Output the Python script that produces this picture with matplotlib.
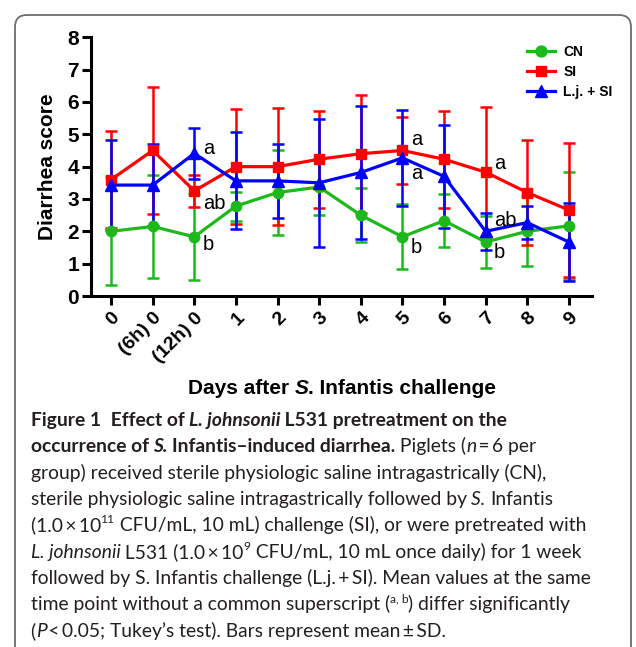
import matplotlib
matplotlib.use("Agg")
import matplotlib.pyplot as plt
from matplotlib.patches import FancyBboxPatch
from matplotlib.lines import Line2D
import numpy as np

# ---------------- data ----------------
tick_labels = ["0", "(6h) 0", "(12h) 0", "1", "2", "3", "4", "5", "6", "7", "8", "9"]
cn_mean = [2.0, 2.15, 1.83, 2.78, 3.2, 3.37, 2.5, 1.83, 2.33, 1.67, 2.0, 2.17]
cn_sd = [1.67, 1.6, 1.33, 0.45, 1.3, 0.88, 0.83, 1.0, 0.81, 0.8, 1.08, 1.65]
si_mean = [3.6, 4.5, 3.25, 4.0, 4.0, 4.23, 4.4, 4.5, 4.23, 3.83, 3.2, 2.66]
si_sd = [1.5, 1.96, 0.5, 1.77, 1.8, 1.5, 1.82, 1.05, 1.5, 2.02, 1.63, 2.06]
lj_mean = [3.43, 3.43, 4.41, 3.56, 3.56, 3.5, 3.82, 4.27, 3.7, 2.0, 2.27, 1.67]
lj_sd = [1.38, 1.26, 0.8, 1.5, 1.14, 1.97, 2.05, 1.48, 1.6, 0.58, 0.5, 1.22]
series_names = ["CN", "SI", "L.j. + SI"]

# significance letters: (position index, y value, letter)
letters_pos = [2, 2, 2, 7, 7, 7, 9, 9, 9]
letters_y = [4.55, 2.85, 1.6, 4.85, 3.8, 1.5, 4.1, 2.35, 1.35]
letters_txt = ["a", "ab", "b", "a", "a", "b", "a", "ab", "b"]

W, H = 636, 647
fig = plt.figure(figsize=(W / 100, H / 100), dpi=100)
fig.patch.set_facecolor("white")

CF = "Liberation Sans"
GREEN, RED, BLUE = "#1cb81c", "#ff0000", "#0000ff"

# axes placement (pixels)
left_px, right_px, bottom_px, top_px = 90.7, 591.7, 296.0, 37.3
ax = fig.add_axes([left_px / W, 1 - bottom_px / H,
                   (right_px - left_px) / W, (bottom_px - top_px) / H])

x = np.arange(len(tick_labels))
specs = [(cn_mean, cn_sd, GREEN, "o", 7.5),
         (si_mean, si_sd, RED, "s", 6.8),
         (lj_mean, lj_sd, BLUE, "^", 8.8)]
handles = []
for (m, s, c, mk, ms), name in zip(specs, series_names):
    ax.errorbar(x, m, yerr=s, color=c, marker=mk, markersize=ms,
                linewidth=2.3, elinewidth=1.8, capsize=4.2, capthick=1.8,
                clip_on=False)
    handles.append(Line2D([], [], color=c, marker=mk, markersize=ms * 1.05,
                          linewidth=2.3, label=name))

for p, yv, t in zip(letters_pos, letters_y, letters_txt):
    ax.text(p + 0.2, yv, t, fontsize=14.5, family=CF, ha="left", va="center")

ax.set_xlim(-0.49, 11.55)
ax.set_ylim(0, 8)
ax.set_yticks(range(0, 9))
ax.set_xticks(x)
ax.set_xticklabels(tick_labels, rotation=45, ha="right", va="top",
                   rotation_mode="anchor", fontsize=14, fontweight="bold", family=CF)
for lab in ax.get_yticklabels():
    lab.set_fontsize(15)
    lab.set_fontweight("bold")
    lab.set_family(CF)
for sp in ["top", "right"]:
    ax.spines[sp].set_visible(False)
for sp in ["left", "bottom"]:
    ax.spines[sp].set_linewidth(2.2)
ax.tick_params(axis="both", width=2.2, length=6.5, pad=2)
ax.tick_params(axis="x", pad=3)
ax.set_ylabel("Diarrhea score", fontsize=15, fontweight="bold", family=CF, labelpad=7)

ax.legend(handles=handles, loc="upper left",
          bbox_to_anchor=((527 - left_px) / (right_px - left_px),
                          1.0 - (45 - top_px) / (bottom_px - top_px)),
          frameon=False, prop={"family": CF, "weight": "bold", "size": 10},
          handlelength=2.0, handletextpad=0.6, labelspacing=0.42, borderpad=0,
          borderaxespad=0)

# ---------------- rich text helper ----------------
renderer = fig.canvas.get_renderer()
CAP_R = ["Lato", "DejaVu Sans"]
CAP_B = ["Lato", "DejaVu Sans"]
CAP_SIZE = 13.9
CAP_BSIZE = 13.9
CAP_COLOR = "#231f20"


def style_kw(st, size):
    if "b" in st:
        kw = dict(family=CAP_B, fontsize=CAP_BSIZE, fontweight="bold")
    else:
        kw = dict(family=CAP_R, fontsize=size, fontweight="normal")
    kw["fontstyle"] = "italic" if "i" in st else "normal"
    return kw


def text_width(s, kw):
    t1 = fig.text(0, 0, "|" + s + "|", **kw)
    t2 = fig.text(0, 0, "||", **kw)
    w = t1.get_window_extent(renderer).width - t2.get_window_extent(renderer).width
    t1.remove()
    t2.remove()
    return w


def draw_rich(x0, y_base, segs, color, size=CAP_SIZE, chart_font=None, center=False):
    items = []
    total = 0.0
    for s, st in segs:
        if chart_font is not None:
            kw = dict(family=chart_font, fontsize=size,
                      fontweight="bold" if "b" in st else "normal",
                      fontstyle="italic" if "i" in st else "normal")
            dy = 0.0
        elif st == "sup":
            kw = style_kw("r", size * 0.62)
            kw["fontsize"] = size * 0.62
            dy = size * 0.42 * 100 / 72
        else:
            kw = style_kw(st, size)
            dy = 0.0
        w = text_width(s, kw)
        items.append((s, kw, dy, w))
        total += w
    xx = x0 - total / 2 if center else x0
    for s, kw, dy, w in items:
        fig.text(xx / W, 1 - (y_base - dy) / H, s, ha="left", va="baseline",
                 color=color, **kw)
        xx += w


# x axis title
draw_rich(342, 394, [("Days after ", "b"), ("S", "bi"), (". Infantis challenge", "b")],
          "black", size=15, chart_font=CF, center=True)

caption = [
    [("Figure 1\u2002Effect of ", "b"), ("L. johnsonii", "bi"), (" L531 pretreatment on the", "b")],
    [("occurrence of ", "b"), ("S.", "bi"), ("Infantis\u2013induced diarrhea.", "b"),
     (" Piglets (", "r"), ("n", "i"), ("\u2009=\u20096 per", "r")],
    [("group) received sterile physiologic saline intragastrically (CN),", "r")],
    [("sterile physiologic saline intragastrically followed by ", "r"), ("S.", "i"), ("Infantis", "r")],
    [("(1.0\u2009\u00d7\u200910", "r"), ("11", "sup"), (" CFU/mL, 10 mL) challenge (SI), or were pretreated with", "r")],
    [("L. johnsonii", "i"), (" L531 (1.0\u2009\u00d7\u200910", "r"), ("9", "sup"),
     (" CFU/mL, 10 mL once daily) for 1 week", "r")],
    [("followed by S. Infantis challenge (L.j.\u2009+\u2009SI). Mean values at the same", "r")],
    [("time point without a common superscript (", "r"), ("a, b", "sup"), (") differ significantly", "r")],
    [("(", "r"), ("P", "i"), ("\u2009<\u20090.05; Tukey\u2019s test). Bars represent mean\u2009\u00b1\u2009SD.", "r")],
]
# italic "S." segments are followed by a normal space of regular width
for segs in caption:
    for j, (s, st) in enumerate(segs):
        if s == "S.":
            segs[j] = ("S. ", st)
for i, segs in enumerate(caption):
    draw_rich(30.5, 426 + i * 26.35, segs, CAP_COLOR)

# rounded frame around figure
frame = FancyBboxPatch((15, -30), 616, H - 15 + 30,
                       boxstyle="round,pad=0,rounding_size=12",
                       transform=None, fill=False, edgecolor="#6d6d6d", linewidth=1.3)
fig.patches.append(frame)

fig.savefig("out.png", dpi=100)
